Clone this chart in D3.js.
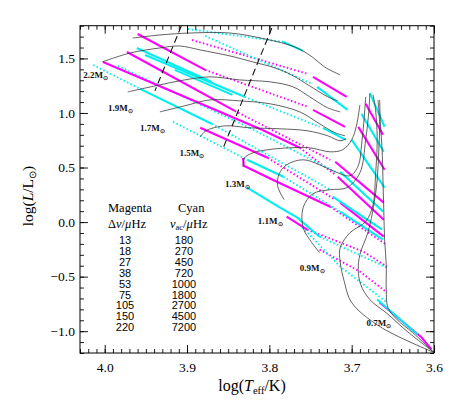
<!DOCTYPE html>
<html>
<head>
<meta charset="utf-8">
<script src="https://cdn.jsdelivr.net/npm/d3@7"></script>
<style>
body{margin:0;background:#fff;}
svg{display:block;}
</style>
</head>
<body>
<div id="chart"></div>
<script>
// ticks and legend values
const xTicks = [4.0, 3.9, 3.8, 3.7, 3.6];
const yTicks = [-1.0, -0.5, 0.0, 0.5, 1.0, 1.5];
const dnuValues = [13, 18, 27, 38, 53, 75, 105, 150, 220];
const nuacValues = [180, 270, 450, 720, 1000, 1800, 2700, 4500, 7200];

// mass labels and where they sit (logTeff, logL)
const massLabels = ['2.2', '1.9', '1.7', '1.5', '1.3', '1.1', '0.9', '0.7'];
const massLabelAt = [[4.026,1.322],[3.996,1.020],[3.957,0.837],[3.909,0.608],[3.854,0.324],[3.814,-0.014],[3.763,-0.444],[3.682,-0.957]];

// evolutionary tracks, [logTeff, logL]
const trackTop = [[3.966,1.687],[3.933,1.715],[3.896,1.733],[3.848,1.733],[3.805,1.678],[3.769,1.605],[3.748,1.514],[3.733,1.422],[3.714,1.349]];
const track22 = [[4.003,1.468],[3.969,1.550],[3.933,1.596],[3.909,1.614],[3.884,1.578],[3.848,1.523],[3.820,1.468],[3.793,1.413],[3.773,1.349],[3.751,1.248],[3.729,1.148],[3.717,1.111]];
const track19 = [[3.972,1.193],[3.939,1.248],[3.903,1.303],[3.872,1.331],[3.836,1.303],[3.799,1.285],[3.771,1.239],[3.751,1.148],[3.729,1.047],[3.714,1.010]];
const track17 = [[3.933,1.010],[3.903,1.065],[3.872,1.120],[3.836,1.111],[3.799,1.084],[3.763,1.010],[3.739,0.901],[3.720,0.818],[3.708,0.791]];
const track15 = [[3.884,0.782],[3.877,0.837],[3.854,0.882],[3.824,0.864],[3.787,0.855],[3.754,0.837],[3.729,0.791],[3.714,0.745],[3.707,0.764]];
const track13 = [[3.832,0.507],[3.830,0.589],[3.820,0.635],[3.802,0.663],[3.775,0.681],[3.751,0.681],[3.726,0.644],[3.711,0.663],[3.700,0.754],[3.694,0.891],[3.690,1.074]];
const track11 = [[3.782,0.205],[3.790,0.333],[3.788,0.443],[3.779,0.525],[3.759,0.571],[3.739,0.525],[3.720,0.461],[3.702,0.425],[3.692,0.516],[3.688,0.708],[3.685,0.937],[3.683,1.148]];
const track09 = [[3.739,-0.280],[3.751,-0.161],[3.759,-0.051],[3.759,0.132],[3.747,0.260],[3.726,0.297],[3.706,0.315],[3.690,0.452],[3.683,0.754],[3.679,1.029],[3.678,1.175]];
const trackLowA = [[3.600,-1.195],[3.666,-0.957],[3.700,-0.737],[3.709,-0.545],[3.714,-0.362],[3.714,-0.234],[3.702,-0.097],[3.683,0.004],[3.674,0.160],[3.671,0.434],[3.669,0.754],[3.671,1.029],[3.674,1.166]];
const trackLowB = [[3.600,-1.195],[3.634,-0.993],[3.657,-0.838],[3.678,-0.710],[3.689,-0.573],[3.692,-0.435],[3.690,-0.298],[3.680,-0.088],[3.673,0.159],[3.669,0.388],[3.667,0.663],[3.666,0.891],[3.668,1.120]];
const track07 = [[3.600,-1.195],[3.626,-1.012],[3.645,-0.893],[3.656,-0.783],[3.658,-0.618],[3.658,-0.390],[3.660,-0.161],[3.661,0.114],[3.662,0.388],[3.663,0.663],[3.665,0.891],[3.666,1.120]];

const dashed1 = [[3.907,1.797],[3.939,1.203]];
const dashed2 = [[3.797,1.779],[3.856,0.681]];

// iso-Δν (magenta) and iso-ν_ac (cyan) loci; 's' = dense run, 'd' = sparse dots
const magentaPaths = [
  [['d',[[3.894,1.669],[3.753,1.358]]],['s',[[3.747,1.331],[3.706,1.148]]],['s',[[3.683,1.084],[3.662,0.800]]]],
  [['s',[[3.960,1.724],[3.878,1.395]]],['d',[[3.878,1.395],[3.753,1.056]]],['s',[[3.747,1.029],[3.708,0.873]]],['s',[[3.692,0.873],[3.660,0.480]]]],
  [['s',[[3.973,1.559],[3.842,1.019]]],['d',[[3.842,1.019],[3.726,0.571]]],['s',[[3.720,0.553],[3.661,0.178]]]],
  [['s',[[4.002,1.468],[3.809,0.846]]],['s',[[3.809,0.846],[3.763,0.681]]],['d',[[3.763,0.681],[3.720,0.434]]],['s',[[3.717,0.416],[3.661,0.022]]]],
  [['s',[[3.884,0.864],[3.802,0.589]]],['d',[[3.802,0.589],[3.720,0.205]]],['s',[[3.714,0.178],[3.661,-0.134]]]],
  [['s',[[3.832,0.589],[3.831,0.516],[3.796,0.388],[3.726,0.141]]],['d',[[3.726,0.141],[3.658,-0.207]]]],
  [['s',[[3.779,0.050],[3.754,-0.069]]],['d',[[3.754,-0.069],[3.686,-0.270],[3.657,-0.408]]]],
  [['d',[[3.739,-0.252],[3.690,-0.454],[3.657,-0.646]]]],
  [['s',[[3.666,-0.737],[3.615,-1.058],[3.603,-1.167]]]]
];
const cyanPaths = [
  [['d',[[3.899,1.770],[3.783,1.651]]],['s',[[3.783,1.651],[3.759,1.569]]],['s',[[3.678,1.184],[3.660,0.873]]]],
  [['d',[[3.878,1.706],[3.748,1.266]]],['s',[[3.742,1.239],[3.705,1.029]]],['s',[[3.688,0.992],[3.661,0.644]]]],
  [['s',[[3.961,1.596],[3.870,1.285]]],['s',[[3.951,1.532],[3.830,1.148]]],['s',[[3.915,1.395],[3.845,1.166]]],['d',[[3.830,1.148],[3.739,0.873]]],['s',[[3.735,0.864],[3.707,0.754]]],['s',[[3.700,0.754],[3.660,0.315]]]],
  [['d',[[3.984,1.431],[3.824,0.864]]],['d',[[3.824,0.864],[3.720,0.461]]],['s',[[3.714,0.461],[3.662,0.096]]]],
  [['d',[[4.014,1.440],[3.957,1.221]]],['s',[[3.957,1.221],[3.870,0.901]]],['d',[[3.870,0.901],[3.726,0.297]]],['s',[[3.723,0.233],[3.663,-0.069]]]],
  [['d',[[3.917,0.919],[3.827,0.571]]],['s',[[3.827,0.571],[3.783,0.416]]],['d',[[3.783,0.416],[3.714,0.096]]],['s',[[3.714,0.096],[3.662,-0.161]]]],
  [['s',[[3.827,0.315],[3.787,0.132],[3.766,0.041],[3.739,-0.134]]],['d',[[3.739,-0.134],[3.657,-0.417]]]],
  [['d',[[3.763,-0.024],[3.714,-0.408],[3.657,-0.737]]]],
  [['s',[[3.669,-0.710],[3.620,-1.030]]]]
];

const tracks = [trackTop, track22, track19, track17, track15, track13, track11, track09, trackLowA, trackLowB, track07];

//Set up DOM scaffolding
const width = 458;
const height = 404;
const margin = {t:25.7, r:24, b:51, l:80};
const svg = d3.select('#chart')
  .append('svg')
  .attr('width', width)
  .attr('height', height);

const x = d3.scaleLinear().domain([4.03, 3.6]).range([margin.l, width - margin.r]);
const y = d3.scaleLinear().domain([-1.2, 1.8]).range([height - margin.b, margin.t]);

svg.append('clipPath').attr('id', 'clip')
  .append('rect')
  .attr('x', margin.l).attr('y', margin.t)
  .attr('width', width - margin.l - margin.r)
  .attr('height', height - margin.t - margin.b);

const plot = svg.append('g').attr('clip-path', 'url(#clip)');
const line = d3.line().x(d => x(d[0])).y(d => y(d[1]));
const smooth = d3.line().x(d => x(d[0])).y(d => y(d[1])).curve(d3.curveCatmullRom.alpha(0.5));

//colored loci
function flat(paths, color){
  const out = [];
  paths.forEach(p => p.forEach(s => out.push({style:s[0], pts:s[1], color:color})));
  return out;
}
const segs = flat(magentaPaths, '#ff00ff').concat(flat(cyanPaths, '#00eeee'));
// draw sparse first, dense on top
segs.sort((a,b) => (a.style === 's') - (b.style === 's'));
plot.selectAll('.seg')
  .data(segs)
  .join('path')
  .attr('class', 'seg')
  .attr('d', d => line(d.pts))
  .attr('fill', 'none')
  .attr('stroke', d => d.color)
  .attr('stroke-width', d => d.style === 's' ? 2.1 : 1.9)
  .attr('stroke-dasharray', d => d.style === 's' ? null : '1.5 2.3')
  .attr('stroke-linecap', 'butt');

//tracks
plot.selectAll('.track')
  .data(tracks)
  .join('path')
  .attr('class', 'track')
  .attr('d', smooth)
  .attr('fill', 'none')
  .attr('stroke', '#3a3a3a')
  .attr('stroke-width', 0.8);

plot.selectAll('.dash')
  .data([dashed1, dashed2])
  .join('path')
  .attr('class', 'dash')
  .attr('d', line)
  .attr('fill', 'none')
  .attr('stroke', '#111')
  .attr('stroke-width', 1.1)
  .attr('stroke-dasharray', '7 4');

//mass labels
const ml = svg.selectAll('.mlab')
  .data(massLabels)
  .join('text')
  .attr('class', 'mlab')
  .attr('x', (d,i) => x(massLabelAt[i][0]))
  .attr('y', (d,i) => y(massLabelAt[i][1]))
  .style('font-family', '"Liberation Serif", serif')
  .style('font-weight', 'bold')
  .style('font-size', '9px')
  .style('fill', '#111');
ml.append('tspan').text(d => d + 'M');
ml.append('tspan').attr('dy', 2).style('font-size', '6px').text('\u2299');

//Axes
const xMinor = d3.range(360, 404).map(d => d / 100);
const yMinor = d3.range(-12, 19).map(d => d / 10);
const fmt = d3.format('.1f');
const bottom = height - margin.b;
const right = width - margin.r;

function axisLayer(gen, tr, vals, size, fmtFn){
  const g = svg.append('g').attr('transform', tr)
    .call(gen.tickValues(vals).tickSize(size).tickSizeOuter(0).tickFormat(fmtFn));
  g.select('.domain').remove();
  g.selectAll('line').attr('stroke', '#000').attr('stroke-width', 0.9);
  return g;
}
const xb = axisLayer(d3.axisBottom(x), `translate(0,${bottom})`, xTicks, -8, fmt);
axisLayer(d3.axisBottom(x), `translate(0,${bottom})`, xMinor, -4, () => '');
axisLayer(d3.axisTop(x), `translate(0,${margin.t})`, xTicks, -8, () => '');
axisLayer(d3.axisTop(x), `translate(0,${margin.t})`, xMinor, -4, () => '');
const yl = axisLayer(d3.axisLeft(y), `translate(${margin.l},0)`, yTicks, -8, fmt);
axisLayer(d3.axisLeft(y), `translate(${margin.l},0)`, yMinor, -4, () => '');
axisLayer(d3.axisRight(y), `translate(${right},0)`, yTicks, -8, () => '');
axisLayer(d3.axisRight(y), `translate(${right},0)`, yMinor, -4, () => '');

xb.selectAll('text')
  .attr('y', 9)
  .attr('dy', '0.71em')
  .style('font-family', '"Liberation Serif", serif')
  .style('font-size', '13.5px')
  .style('fill', '#000');
yl.selectAll('text')
  .attr('x', -5)
  .style('font-family', '"Liberation Serif", serif')
  .style('font-size', '13.5px')
  .style('fill', '#000');

svg.append('rect')
  .attr('x', margin.l).attr('y', margin.t)
  .attr('width', right - margin.l)
  .attr('height', bottom - margin.t)
  .attr('fill', 'none')
  .attr('stroke', '#000')
  .attr('stroke-width', 1);

//Axis titles
const xt = svg.append('text')
  .attr('x', 252)
  .attr('y', 391)
  .attr('text-anchor', 'middle')
  .style('font-family', '"Liberation Serif", serif')
  .style('font-size', '16px');
xt.append('tspan').text('log(');
xt.append('tspan').style('font-style', 'italic').text('T');
xt.append('tspan').attr('dy', 3).style('font-size', '10.5px').text('eff');
xt.append('tspan').attr('dy', -3).text('/K)');

const ytl = svg.append('text')
  .attr('transform', 'translate(33,196) rotate(-90)')
  .attr('text-anchor', 'middle')
  .style('font-family', '"Liberation Serif", serif')
  .style('font-size', '15.5px');
ytl.append('tspan').text('log(');
ytl.append('tspan').style('font-style', 'italic').text('L');
ytl.append('tspan').text('/L');
ytl.append('tspan').attr('dy', 3).style('font-size', '10px').text('\u2299');
ytl.append('tspan').attr('dy', -3).text(')');

//Legend
const serif = '"Liberation Serif", serif';
svg.append('text').attr('x', 108).attr('y', 212)
  .style('font-family', serif).style('font-size', '12.5px').text('Magenta');
svg.append('text').attr('x', 178).attr('y', 212)
  .style('font-family', serif).style('font-size', '12.5px').text('Cyan');
const h1 = svg.append('text').attr('x', 108).attr('y', 228)
  .style('font-family', serif).style('font-size', '12.5px');
h1.append('tspan').text('\u0394');
h1.append('tspan').style('font-style', 'italic').text('\u03bd');
h1.append('tspan').text('/');
h1.append('tspan').style('font-style', 'italic').text('\u03bc');
h1.append('tspan').text('Hz');
const h2 = svg.append('text').attr('x', 170).attr('y', 228)
  .style('font-family', serif).style('font-size', '12.5px');
h2.append('tspan').style('font-style', 'italic').text('\u03bd');
h2.append('tspan').attr('dy', 2).style('font-size', '8.5px').text('ac');
h2.append('tspan').attr('dy', -2).text('/');
h2.append('tspan').style('font-style', 'italic').text('\u03bc');
h2.append('tspan').text('Hz');

svg.selectAll('.dnu')
  .data(dnuValues)
  .join('text')
  .attr('class', 'dnu')
  .attr('x', 125)
  .attr('y', (d,i) => 244 + i * 10.9)
  .attr('text-anchor', 'middle')
  .style('font-family', '"Liberation Sans", sans-serif')
  .style('font-size', '11px')
  .text(d => d);
svg.selectAll('.nuac')
  .data(nuacValues)
  .join('text')
  .attr('class', 'nuac')
  .attr('x', 184)
  .attr('y', (d,i) => 244 + i * 10.9)
  .attr('text-anchor', 'middle')
  .style('font-family', '"Liberation Sans", sans-serif')
  .style('font-size', '11px')
  .text(d => d);
</script>
</body>
</html>
